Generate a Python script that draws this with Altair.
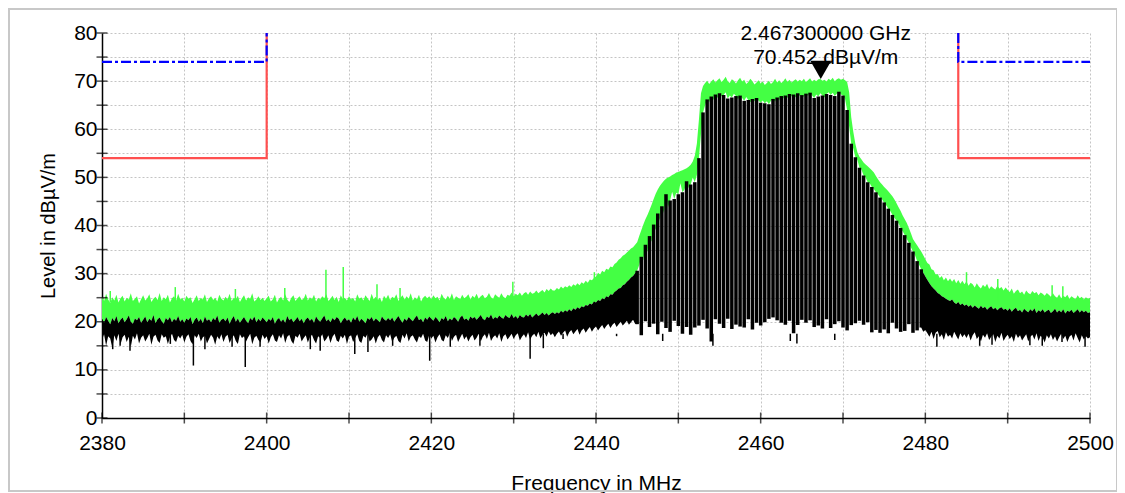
import altair as alt
import numpy as np
import pandas as pd

# ---------------- data ----------------
F_START, F_STEP = 2380.0, 0.25

# green trace (max-peak) upper edge, one value every 0.25 MHz, 2380..2500
G_HI = [
    25.2, 24.3, 25.8, 24.6, 23.9, 25.1, 24.4, 25.6, 24.0, 24.9, 25.4, 24.2, 25.0, 24.6, 25.9, 24.3, 24.8, 25.3, 23.8, 24.7,
    25.5, 24.4, 24.9, 25.7, 24.1, 24.8, 25.2, 24.5, 26.0, 24.3, 25.1, 24.7, 25.6, 24.0, 24.9, 25.3, 24.4, 25.8, 24.6, 25.0,
    24.2, 25.4, 24.8, 25.1, 23.9, 24.7, 25.5, 24.3, 25.0, 24.6, 25.7, 24.1, 24.9, 25.3, 24.5, 25.0, 24.2, 25.6, 24.8, 24.4,
    25.2, 24.6, 25.8, 24.3, 25.0, 24.7, 25.4, 24.1, 24.9, 25.5, 24.4, 25.1, 24.8, 25.9, 24.2, 24.6, 25.3, 24.5, 25.0, 24.3,
    24.9, 25.4, 24.2, 24.7, 25.6, 24.0, 24.8, 25.2, 24.4, 25.7, 24.6, 24.1, 25.0, 25.5, 24.3, 24.9, 25.3, 24.5, 24.8, 25.8,
    24.4, 25.1, 24.7, 25.6, 24.2, 25.0, 24.6, 25.3, 24.9, 25.7, 24.3, 24.8, 25.4, 24.5, 25.2, 24.1, 25.5, 24.7, 25.0, 24.4,
    25.3, 24.6, 25.0, 24.2, 25.7, 24.8, 25.1, 24.4, 25.5, 24.9, 24.3, 25.8, 24.7, 25.2, 24.5, 25.0, 24.1, 25.4, 24.8, 25.6,
    24.5, 25.2, 24.9, 25.7, 24.3, 25.0, 25.5, 24.6, 25.3, 24.8, 25.9, 24.4, 25.1, 24.7, 25.6, 24.2, 25.0, 25.4, 24.9, 25.3,
    24.7, 25.5, 24.9, 25.2, 24.4, 25.8, 25.0, 24.6, 25.4, 24.8, 25.9, 24.5, 25.3, 25.0, 24.7, 25.6, 24.9, 25.2, 25.7, 24.6,
    25.4, 25.0, 25.8, 24.8, 25.3, 25.6, 24.9, 25.2, 26.0, 25.1, 24.8, 25.7, 25.3, 25.0, 25.9, 25.2, 24.9, 25.6, 25.4, 26.1,
    25.3, 25.8, 25.5, 26.1, 25.4, 25.9, 26.2, 25.6, 26.3, 25.8, 26.0, 26.5, 25.9, 26.3, 26.6, 26.1, 26.8, 26.4, 26.9, 26.5,
    26.5, 27.0, 26.7, 27.3, 26.9, 27.4, 27.1, 27.6, 27.2, 27.8, 27.5, 28.0, 27.6, 28.2, 27.9, 28.5, 28.1, 28.8, 28.6, 29.1,
    29.4, 30.2, 29.8, 30.6, 30.3, 31.0, 30.8, 31.5, 31.3, 32.0, 32.3, 32.9, 33.2, 33.7, 34.0, 34.4, 34.8, 35.2, 35.5, 36.0,
    36.5, 37.8, 39.0, 40.2, 41.3, 42.2, 43.2, 44.3, 45.5, 46.6, 47.5, 48.2, 48.8, 49.3, 49.7, 50.0, 50.2, 50.5, 50.7, 51.0,
    51.1, 51.3, 51.5, 51.7, 51.9, 52.2, 52.6, 53.3, 54.5, 57.0, 62.0, 67.5, 69.0, 69.6, 70.1, 69.4, 69.9, 70.4, 69.7, 70.2,
    70.6, 69.8, 70.3, 70.9, 70.0, 69.6, 70.4, 70.1, 69.5, 70.2, 70.7, 69.9, 70.3, 69.4, 69.8, 70.5, 70.0, 69.3, 69.7, 70.2,
    69.5, 69.9, 69.2, 69.6, 70.1, 69.4, 69.8, 70.5, 69.7, 70.2, 69.6, 70.0, 70.6, 69.8, 70.3, 69.7, 70.1, 70.4, 69.9, 70.3,
    70.0, 70.5, 69.8, 70.2, 70.6, 69.9, 70.3, 70.0, 70.4, 70.45, 70.1, 70.3, 69.9, 70.5, 70.2, 70.7, 70.0, 70.4, 70.6, 70.3,
    70.5, 70.2, 69.8, 67.7, 62.5, 59.5, 57.0, 55.2, 54.3, 53.7, 53.1, 52.7, 52.3, 51.9, 51.5, 51.0, 50.3, 49.6, 49.0, 48.5,
    48.0, 47.6, 47.1, 46.6, 46.1, 45.4, 44.6, 43.8, 43.0, 42.1, 41.3, 40.5, 39.5, 38.4, 37.2, 36.5, 35.9, 35.2, 34.6, 33.8,
    33.0, 32.2, 31.9, 30.9, 30.7, 29.8, 29.9, 29.1, 29.5, 28.6, 29.2, 28.4, 29.0, 28.3, 28.9, 28.0, 28.7, 27.9, 28.5, 27.8,
    28.4, 27.5, 28.1, 27.8, 27.1, 28.0, 27.3, 26.9, 27.7, 27.2, 27.9, 26.8, 27.4, 27.0, 26.7, 27.5, 26.9, 27.2, 26.5, 27.1,
    26.6, 26.2, 26.9, 25.8, 26.4, 26.7, 25.9, 26.3, 25.6, 26.5, 26.0, 25.7, 26.4, 25.9, 26.2, 25.5, 26.1, 25.8, 25.4, 26.0,
    25.6, 25.2, 25.9, 25.3, 25.0, 25.7, 24.9, 25.4, 25.1, 25.6, 24.8, 25.3, 25.0, 24.7, 25.5, 24.9, 25.2, 24.6, 25.1, 24.8,
    25.0,
]

# black trace upper edge
B_HI = [
    20.6, 19.8, 21.0, 20.2, 19.5, 20.8, 20.1, 21.2, 19.7, 20.4, 20.9, 19.9, 20.5, 21.3, 20.0, 19.6, 20.7, 20.3, 21.0, 19.8,
    20.4, 21.1, 19.9, 20.6, 20.2, 21.4, 19.7, 20.5, 20.9, 20.1, 19.6, 20.8, 20.3, 21.0, 19.9, 20.6, 20.2, 21.2, 20.0, 20.5,
    19.8, 20.7, 20.3, 21.0, 19.5, 20.4, 20.9, 20.0, 20.6, 19.7, 21.1, 20.2, 20.5, 19.9, 20.8, 20.3, 21.3, 19.8, 20.4, 20.7,
    20.1, 20.9, 19.6, 20.5, 21.2, 20.0, 20.7, 19.8, 20.4, 21.0, 20.2, 19.7, 20.8, 20.3, 21.1, 19.9, 20.6, 20.1, 20.9, 20.4,
    19.9, 20.6, 20.2, 21.0, 19.6, 20.4, 20.8, 20.0, 20.5, 19.8, 21.2, 20.3, 20.7, 19.9, 20.4, 21.0, 20.1, 20.6, 19.7, 20.5,
    20.9, 20.2, 20.6, 19.8, 21.1, 20.4, 20.0, 20.7, 21.3, 20.1, 20.5, 19.9, 20.8, 20.3, 21.0, 20.6, 19.7, 20.4, 20.9, 20.2,
    20.5, 19.8, 20.9, 20.3, 21.2, 20.0, 20.6, 20.2, 19.7, 20.8, 20.4, 21.0, 20.1, 20.7, 20.3, 19.9, 21.1, 20.5, 20.2, 20.8,
    20.3, 20.9, 20.0, 20.6, 21.2, 20.4, 19.8, 20.7, 20.2, 21.0, 20.5, 20.1, 20.8, 21.3, 20.3, 20.6, 19.9, 20.9, 20.4, 21.1,
    20.6, 20.2, 21.0, 20.5, 19.9, 20.8, 20.4, 21.2, 20.1, 20.7, 20.3, 21.0, 20.6, 20.0, 20.9, 21.3, 20.4, 20.7, 20.2, 21.1,
    20.7, 21.0, 20.4, 20.9, 21.4, 20.6, 20.3, 21.1, 20.8, 21.5, 20.5, 21.0, 20.7, 21.3, 20.9, 20.6, 21.4, 21.0, 20.8, 21.6,
    20.8, 21.2, 20.6, 21.4, 21.0, 20.9, 21.5, 21.1, 21.6, 20.9, 21.3, 21.7, 21.2, 21.5, 21.9, 21.4, 21.8, 21.3, 21.7, 22.0,
    21.6, 22.0, 21.7, 22.3, 21.9, 22.4, 22.1, 22.6, 22.2, 22.8, 22.5, 23.0, 22.7, 23.2, 23.0, 23.5, 23.3, 23.8, 23.6, 24.2,
    24.0, 24.5, 24.3, 24.9, 24.7, 25.3, 25.1, 25.7, 25.6, 26.2, 26.5, 26.9, 27.0, 27.6, 27.8, 28.3, 28.7, 29.2, 29.5, 30.1,
    30.6, 31.8, 33.5, 32.8, 36.0, 34.5, 37.8, 36.6, 40.2, 39.0, 42.5, 41.0, 44.0, 42.6, 46.5, 43.8, 45.2, 47.0, 45.5, 46.8,
    46.5, 48.8, 46.9, 47.5, 49.2, 47.8, 48.5, 50.0, 49.0, 50.5, 54.0, 59.0, 63.5, 65.0, 66.2, 65.6, 66.8, 66.1, 67.2, 66.5,
    67.5, 66.8, 67.1, 67.7, 66.4, 67.0, 66.6, 67.4, 66.9, 66.2, 67.0, 66.5, 65.9, 66.7, 66.1, 65.6, 66.3, 65.8, 66.5, 65.9,
    65.5, 66.0, 65.4, 65.8, 65.2, 65.9, 66.3, 65.7, 66.6, 66.0, 66.9, 66.4, 67.0, 66.5, 67.3, 66.8, 67.2, 66.6, 67.5, 66.9,
    67.1, 66.7, 67.4, 66.9, 67.6, 67.0, 66.5, 67.2, 66.8, 67.5, 67.0, 66.6, 67.3, 67.7, 67.1, 67.6, 66.9, 67.4, 67.8, 67.2,
    67.0, 66.3, 64.0, 60.5, 57.0, 56.0, 54.2, 53.6, 52.0, 51.6, 50.4, 50.0, 49.0, 48.8, 48.0, 47.6, 46.9, 46.5, 45.8, 45.4,
    44.8, 44.2, 43.5, 43.0, 42.2, 41.6, 41.0, 40.4, 39.5, 38.8, 38.0, 37.2, 36.4, 35.5, 34.6, 33.8, 32.6, 31.8, 30.9, 30.2,
    29.4, 28.7, 28.0, 27.4, 26.9, 26.5, 26.0, 25.7, 25.3, 25.1, 24.8, 24.5, 24.3, 24.6, 24.0, 23.7, 24.1, 23.5, 23.8, 23.3,
    23.6, 23.1, 23.5, 22.9, 23.4, 23.0, 22.7, 23.3, 22.8, 23.1, 22.5, 22.9, 23.2, 22.6, 22.9, 22.4, 22.8, 23.0, 22.5, 22.7,
    22.3, 22.8, 22.1, 22.6, 22.9, 22.2, 22.5, 21.9, 22.7, 22.3, 22.0, 22.6, 22.2, 22.8, 21.8, 22.4, 22.1, 22.6, 21.9, 22.3,
    22.5, 21.8, 22.2, 22.7, 21.9, 22.4, 22.0, 22.6, 21.7, 22.3, 22.1, 22.5, 21.8, 22.2, 22.6, 21.9, 22.4, 22.0, 22.3, 21.8,
    22.0,
]

# black trace lower edge
B_LO = [
    16.2, 17.4, 15.0, 17.0, 16.5, 14.6, 17.2, 16.0, 17.5, 15.3, 16.8, 17.3, 15.8, 16.9, 14.8, 17.1, 16.3, 17.6, 15.5, 16.7,
    17.2, 15.9, 16.6, 17.5, 15.2, 16.9, 17.3, 16.1, 15.6, 17.4, 16.7, 17.0, 15.4, 16.8, 17.5, 16.2, 15.8, 17.1, 16.5, 17.3,
    15.7, 16.9, 17.4, 16.0, 15.3, 17.2, 16.6, 17.5, 15.9, 16.8, 17.1, 15.5, 16.4, 17.3, 16.7, 15.2, 17.0, 16.3, 17.4, 15.8,
    16.9, 17.3, 15.6, 16.5, 17.2, 16.0, 15.4, 17.4, 16.6, 17.0, 15.9, 16.8, 17.5, 15.3, 16.7, 17.1, 16.2, 15.7, 17.3, 16.4,
    17.0, 15.5, 16.8, 17.4, 16.1, 15.8, 17.2, 16.5, 17.6, 15.6, 16.9, 17.3, 16.0, 15.4, 17.1, 16.7, 17.5, 15.9, 16.6, 17.2,
    15.7, 16.8, 17.3, 16.2, 15.5, 17.0, 16.6, 17.4, 15.9, 16.4, 17.2, 15.6, 16.9, 17.5, 16.1, 15.8, 17.1, 16.5, 17.3, 15.4,
    16.9, 17.2, 15.8, 16.6, 17.4, 16.0, 15.6, 17.1, 16.7, 17.5, 15.9, 16.3, 17.0, 15.5, 16.8, 17.3, 16.2, 15.7, 17.2, 16.6,
    17.4, 15.8, 16.7, 17.1, 16.0, 15.6, 17.3, 16.5, 17.6, 15.9, 16.9, 17.2, 16.3, 15.7, 17.0, 16.6, 17.5, 16.1, 15.8, 17.3,
    16.5, 17.1, 15.7, 16.8, 17.4, 16.2, 15.9, 17.2, 16.6, 17.6, 16.0, 16.9, 17.3, 15.8, 16.7, 17.5, 16.3, 17.0, 15.9, 16.8,
    17.3, 16.1, 16.7, 17.5, 15.9, 16.9, 17.4, 16.4, 17.7, 16.0, 16.8, 17.2, 16.5, 17.6, 15.8, 17.0, 17.4, 16.3, 16.9, 17.5,
    16.4, 17.2, 17.6, 16.1, 16.9, 17.4, 16.6, 17.8, 16.3, 17.1, 17.5, 16.8, 17.9, 16.5, 17.3, 17.7, 16.9, 18.0, 17.2, 17.6,
    16.8, 17.5, 18.0, 17.1, 17.7, 18.2, 16.9, 17.8, 18.3, 17.4, 18.0, 18.5, 17.3, 18.2, 18.6, 17.7, 18.4, 18.9, 17.9, 18.6,
    19.0, 18.2, 18.8, 19.3, 18.5, 19.1, 19.6, 18.7, 19.4, 19.8, 18.9, 19.5, 20.0, 19.2, 19.7, 20.2, 19.4, 19.9, 20.4, 19.6,
    19.5, 18.3, 17.2, 19.0, 20.1, 17.8, 18.9, 16.5, 19.6, 18.2, 17.4, 19.3, 20.0, 16.8, 18.7, 19.4, 17.9, 18.5, 20.2, 17.6,
    19.1, 18.4, 17.5, 19.8, 18.9, 20.3, 17.3, 19.6, 18.8, 20.0, 19.2, 17.8, 20.4, 19.5, 18.6, 20.1, 15.9, 19.7, 20.5, 18.9,
    19.6, 20.3, 18.7, 19.9, 20.6, 19.1, 18.5, 20.2, 19.4, 20.8, 19.0, 20.4, 18.8, 19.7, 20.5, 19.3, 18.4, 20.1, 19.8, 20.7,
    19.2, 20.4, 19.9, 18.6, 20.6, 19.5, 20.9, 19.0, 20.3, 18.9, 19.8, 20.5, 19.4, 18.3, 20.2, 19.7, 17.6, 20.0, 19.3, 18.8,
    20.4, 19.1, 19.8, 18.5, 20.3, 19.6, 18.9, 20.7, 19.2, 20.0, 18.6, 19.9, 20.5, 19.3, 18.7, 20.2, 19.5, 18.4, 20.1, 19.7,
    18.8, 19.6, 18.2, 20.0, 19.3, 17.9, 19.7, 18.6, 20.2, 18.0, 19.4, 17.5, 19.9, 18.7, 17.8, 19.5, 18.3, 20.1, 17.7, 19.0,
    18.4, 19.6, 17.6, 18.9, 19.8, 17.3, 18.6, 20.0, 17.9, 19.2, 18.1, 17.4, 19.5, 18.5, 17.7, 19.0, 18.2, 17.5, 18.8, 17.9,
    18.3, 17.6, 16.9, 17.9, 16.4, 17.7, 18.1, 16.8, 17.4, 16.2, 17.8, 16.9, 17.3, 16.5, 17.9, 17.1, 16.3, 17.6, 16.8, 17.4,
    16.6, 17.5, 16.1, 17.2, 17.8, 16.4, 17.0, 15.9, 17.3, 16.7, 17.6, 16.2, 16.9, 17.4, 15.8, 17.1, 16.5, 17.7, 16.0, 16.8,
    17.3, 16.4, 17.0, 15.8, 17.5, 16.6, 17.2, 16.1, 16.8, 17.4, 15.9, 16.9, 17.3, 16.3, 17.6, 16.0, 17.1, 16.7, 15.7, 17.2,
    16.5, 17.4, 16.2, 17.0, 15.9, 16.8, 17.5, 16.4, 17.1, 15.8, 16.9, 17.3, 16.1, 17.6, 16.6, 15.7, 17.2, 16.3, 17.0, 16.5,
    16.8,
]

# thin green spikes above the trace
GSPK_F = [2381.0, 2388.9, 2396.2, 2402.2, 2407.2, 2409.3, 2413.4, 2416.2, 2429.9, 2439.8, 2485.0, 2488.8, 2495.4, 2496.7]
GSPK_V = [26.4, 27.2, 26.8, 27.0, 30.8, 31.4, 27.8, 27.0, 28.3, 30.3, 30.3, 28.9, 27.6, 27.4]

# thin black dips below the trace
BSPK_F = [2381.3, 2382.2, 2383.4, 2388.3, 2391.1, 2392.5, 2395.8, 2397.4, 2399.2, 2405.3, 2406.5, 2410.7,
          2412.3, 2415.3, 2419.8, 2422.3, 2425.9, 2432.0, 2433.6, 2436.0, 2442.5, 2448.1, 2454.2, 2463.6,
          2464.4, 2469.0, 2481.4, 2486.6, 2488.1, 2492.7, 2494.2, 2496.6, 2499.4]
BSPK_V = [14.3, 15.0, 14.0, 15.4, 10.9, 14.3, 14.8, 10.6, 14.8, 14.3, 14.0, 13.3,
          13.7, 15.0, 11.9, 14.8, 15.0, 12.3, 14.5, 16.4, 17.0, 16.0, 15.0, 16.0,
          15.5, 16.2, 14.8, 15.0, 15.2, 15.1, 15.0, 15.8, 14.8]

# limit lines
LIM_SEG = ["left", "left", "left", "right", "right", "right"]
LIM_F = [2380, 2400, 2400, 2484, 2484, 2500]
LIM_RED = [54, 54, 80, 80, 54, 54]
LIM_BLUE = [74, 74, 80, 80, 74, 74]

# marker
MK_F = [2467.3]
MK_V = [70.452]
MK_T1 = ["2.467300000 GHz"]
MK_T2 = ["70.452 dBµV/m"]

X_TICKS = list(range(2380, 2501, 10))
Y_TICKS = list(range(0, 81, 5))

# ---------------- build ----------------
assert len(G_HI) == len(B_HI) == len(B_LO) == 481, (len(G_HI), len(B_HI), len(B_LO))
F = F_START + F_STEP * np.arange(len(G_HI))
df = pd.DataFrame({"f": F, "g_hi": G_HI, "b_hi": B_HI, "b_lo": B_LO})
df_left = df[df.f <= 2445.0]
df_right = df[df.f >= 2479.5]
df_comb = df[(df.f >= 2445.0) & (df.f <= 2479.5) & ((df.f * 2) % 1 == 0)]

gspk = pd.DataFrame({"f": GSPK_F, "v": GSPK_V})
bspk = pd.DataFrame({"f": BSPK_F, "v": BSPK_V})
lim = pd.DataFrame({"f": LIM_F, "red": LIM_RED, "blue": LIM_BLUE, "seg": LIM_SEG, "o": range(len(LIM_F))})
mk = pd.DataFrame({"f": MK_F, "v": MK_V, "t1": MK_T1, "t2": MK_T2})
ytk = pd.DataFrame({"v": Y_TICKS})
xtk = pd.DataFrame({"v": X_TICKS})

GREEN = "#44ff44"
RED = "#ff5050"
BLUE = "#0000ff"
FONT = "Liberation Sans"

xs = alt.Scale(domain=[2380, 2500], nice=False, zero=False)
ys = alt.Scale(domain=[0, 80], nice=False, zero=False)

x_axis = alt.Axis(values=X_TICKS, format="d", labelExpr="datum.value % 20 == 0 ? datum.label : ''",
                  title="Frequency in MHz", ticks=False, labelPadding=14, titlePadding=19,
                  labelFlush=False, labelOverlap=False, labelFontSize=21, titleFontSize=21)
y_axis = alt.Axis(values=Y_TICKS, format="d", labelExpr="datum.value % 10 == 0 ? datum.label : ''",
                  title="Level in dBµV/m", ticks=False, labelPadding=5, titlePadding=15,
                  labelFlush=False, labelOverlap=False, labelFontSize=21, titleFontSize=20)


def X(field="f"):
    return alt.X(f"{field}:Q", scale=xs, axis=x_axis, title="Frequency in MHz")


def Y(field):
    return alt.Y(f"{field}:Q", scale=ys, axis=y_axis, title="Level in dBµV/m")


green = alt.Chart(df).mark_area(color=GREEN, opacity=1).encode(
    x=X(), y=Y("b_hi"), y2="g_hi:Q",
)
green_spk = alt.Chart(gspk).mark_rule(color=GREEN, strokeWidth=1.5).encode(
    x=X(), y=Y("v"), y2=alt.datum(24)
)
black_left = alt.Chart(df_left).mark_area(color="black", opacity=1).encode(
    x=X(), y=Y("b_lo"), y2="b_hi:Q"
)
black_right = alt.Chart(df_right).mark_area(color="black", opacity=1).encode(
    x=X(), y=Y("b_lo"), y2="b_hi:Q"
)
black_comb = alt.Chart(df_comb).mark_rule(color="black", strokeWidth=3.5).encode(
    x=X(), y=Y("b_lo"), y2="b_hi:Q"
)
black_spk = alt.Chart(bspk).mark_rule(color="black", strokeWidth=1.5).encode(
    x=X(), y=Y("v"), y2=alt.datum(17.5)
)
red_line = alt.Chart(lim).mark_line(color=RED, strokeWidth=2.2).encode(
    x=X(), y=Y("red"), detail="seg:N", order="o:Q"
)
blue_line = alt.Chart(lim).mark_line(color=BLUE, strokeWidth=2.2, strokeDash=[10, 3, 3, 3]).encode(
    x=X(), y=Y("blue"), detail="seg:N", order="o:Q"
)
yticks = alt.Chart(ytk).mark_tick(orient="horizontal", size=11, thickness=1.5, color="black").encode(
    y=Y("v"), x=alt.XDatum(2380, scale=xs, axis=x_axis, title="Frequency in MHz")
)
xticks = alt.Chart(xtk).mark_tick(orient="vertical", size=11, thickness=1.5, color="black").encode(
    x=X("v"), y=alt.YDatum(0, scale=ys, axis=y_axis, title="Level in dBµV/m")
)
marker = alt.Chart(mk).mark_point(shape="triangle-down", size=440, filled=True, color="black",
                                  opacity=1, yOffset=-9).encode(x=X(), y=Y("v"))
mk_t1 = alt.Chart(mk).mark_text(fontSize=21, font=FONT, color="black", align="center",
                                baseline="alphabetic", dx=5, dy=-38.5).encode(
    x=X(), y=Y("v"), text="t1:N"
)
mk_t2 = alt.Chart(mk).mark_text(fontSize=21, font=FONT, color="black", align="center",
                                baseline="alphabetic", dx=5, dy=-15).encode(
    x=X(), y=Y("v"), text="t2:N"
)
frame = alt.Chart(mk).mark_rect(filled=False, stroke="#c8c8c8", strokeWidth=2).encode(
    x=alt.value(-93), x2=alt.value(1015), y=alt.value(-24), y2=alt.value(458)
)

chart = alt.layer(
    green, green_spk, black_left, black_right, black_comb, black_spk,
    red_line, blue_line, yticks, xticks, mk_t2, mk_t1, marker, frame
).properties(
    width=988, height=385,
    autosize=alt.AutoSizeParams(type="none"),
    padding={"left": 94, "top": 25, "right": 27, "bottom": 75},
    background="white",
).configure_view(stroke=None).configure_axis(
    domainColor="black", domainWidth=1.5,
    gridColor="#c4c4c4", gridDash=[2, 2], gridWidth=1,
    labelFont=FONT, labelColor="black",
    titleFont=FONT, titleColor="black", titleFontWeight="normal",
)

chart.save("out.html", embed_options={"renderer": "svg", "actions": False})
